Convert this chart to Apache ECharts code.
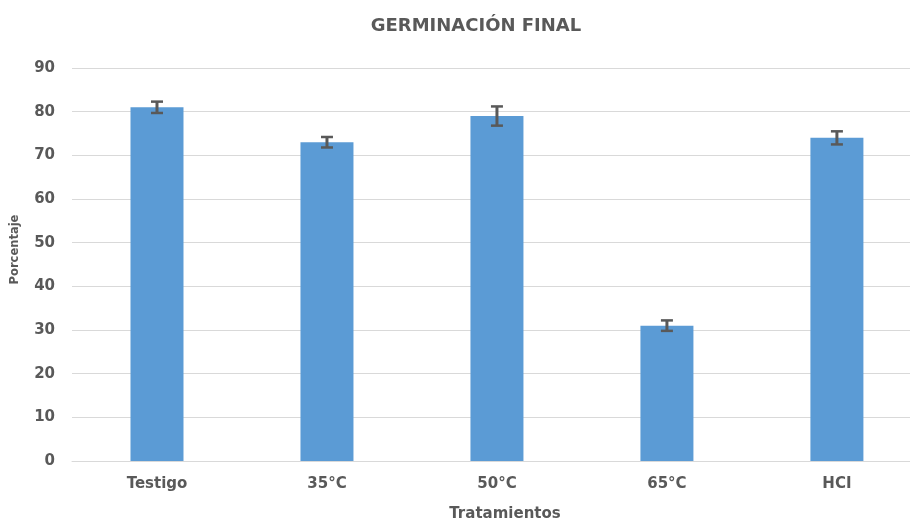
<!DOCTYPE html>
<html>
<head>
<meta charset="utf-8">
<script src="https://cdn.jsdelivr.net/npm/echarts@6/dist/echarts.min.js"></script>
<style>
  html, body { margin: 0; padding: 0; background: #fff; }
  #chart { width: 910px; height: 527px; }
</style>
</head>
<body>
<div id="chart"></div>
<script>
// datos
const categories = ['Testigo', '35°C', '50°C', '65°C', 'HCI'];
const values = [81, 73, 79, 31, 74];
const errors = [1.3, 1.2, 2.2, 1.2, 1.5];

const textColor = '#595959';
const wideFont = 'DejaVu Sans';
const chart = echarts.init(document.getElementById('chart'));

const catIndex = categories.map((c, i) => i);
const barData = values.map((v, i) => [i, v]);
const errorData = values.map((v, i) => [i, v - errors[i], v + errors[i]]);

chart.setOption({
    animation: false,
    title: {
        text: 'GERMINACIÓN FINAL',
        left: 471,
        textAlign: 'center',
        top: 12,
        textStyle: { color: textColor, fontSize: 18, fontWeight: 'bold', fontFamily: wideFont }
    },
    grid: { left: 72, top: 68, bottom: 60, right: 0 },
    // eje de categorías como eje numérico: el área del gráfico sigue más allá del borde derecho
    xAxis: {
        type: 'value',
        min: -0.5,
        max: 4.43,
        name: 'Tratamientos',
        nameLocation: 'middle',
        nameGap: 46,
        nameTextStyle: { color: textColor, fontSize: 15, fontWeight: 'bold', fontFamily: wideFont, padding: [0, 0, 0, 28] },
        axisLine: { show: true, lineStyle: { color: '#d9d9d9' } },
        axisTick: { show: false },
        splitLine: { show: false },
        axisLabel: {
            customValues: catIndex,
            formatter: v => categories[v],
            color: textColor, fontSize: 15, fontWeight: 'bold', margin: 16, fontFamily: wideFont
        }
    },
    yAxis: {
        type: 'value',
        min: 0,
        max: 90,
        interval: 10,
        name: 'Porcentaje',
        nameLocation: 'middle',
        nameGap: 51,
        nameTextStyle: { color: textColor, fontSize: 11.5, fontWeight: 'bold', fontFamily: wideFont, padding: [0, 0, 0, 30] },
        axisLine: { show: false },
        axisTick: { show: false },
        axisLabel: { color: textColor, fontSize: 15, fontWeight: 'bold', margin: 17, fontFamily: wideFont },
        splitLine: { lineStyle: { color: '#d9d9d9', width: 1 } }
    },
    series: [
        {
            type: 'bar',
            data: barData,
            barWidth: 53,
            itemStyle: { color: '#5b9bd5' }
        },
        {
            type: 'custom',
            data: errorData,
            z: 10,
            renderItem: function (params, api) {
                const x = api.value(0);
                const lo = api.coord([x, api.value(1)]);
                const hi = api.coord([x, api.value(2)]);
                const hw = 6;
                return {
                    type: 'group',
                    children: [
                        { type: 'line', shape: { x1: lo[0], y1: lo[1], x2: hi[0], y2: hi[1] }, style: { stroke: textColor, lineWidth: 3 } },
                        { type: 'line', shape: { x1: lo[0] - hw, y1: lo[1], x2: lo[0] + hw, y2: lo[1] }, style: { stroke: textColor, lineWidth: 2.5 } },
                        { type: 'line', shape: { x1: hi[0] - hw, y1: hi[1], x2: hi[0] + hw, y2: hi[1] }, style: { stroke: textColor, lineWidth: 2.5 } }
                    ]
                };
            }
        }
    ]
});
</script>
</body>
</html>
